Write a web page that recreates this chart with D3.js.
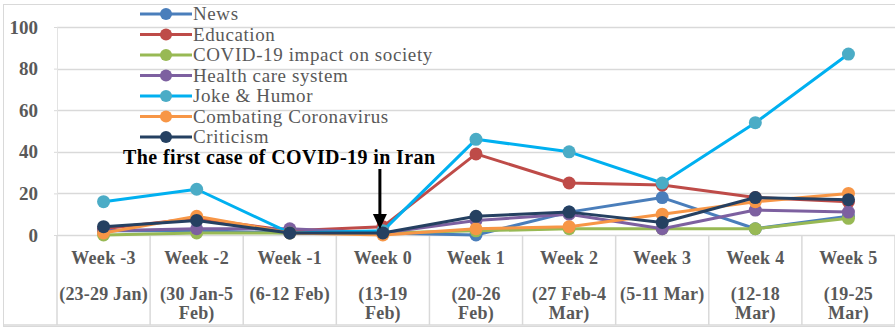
<!DOCTYPE html>
<html>
<head>
<meta charset="utf-8">
<script src="https://cdn.jsdelivr.net/npm/d3@7"></script>
<style>
  body { margin: 0; background: #fff; }
  svg { display: block; font-family: "Liberation Serif", "Times New Roman", serif; }
</style>
</head>
<body>
<div id="wrapper"></div>
<script>
const weeks = ["Week -3", "Week -2", "Week -1", "Week 0", "Week 1", "Week 2", "Week 3", "Week 4", "Week 5"]
const dateLabels = [
  ["(23-29 Jan)"], ["(30 Jan-5", "Feb)"], ["(6-12 Feb)"], ["(13-19", "Feb)"], ["(20-26", "Feb)"],
  ["(27 Feb-4", "Mar)"], ["(5-11 Mar)"], ["(12-18", "Mar)"], ["(19-25", "Mar)"]
]
const yTicks = [0, 20, 40, 60, 80, 100]

const news = [2, 2, 1, 1, 0, 11, 18, 3, 9]
const education = [3, 8, 2, 4, 39, 25, 24, 18, 16]
const covidImpact = [0, 1, 1, 1, 2, 3, 3, 3, 8]
const healthCare = [2, 3, 3, 1, 7, 10, 3, 12, 11]
const jokeHumor = [16, 22, 1, 2, 46, 40, 25, 54, 87]
const combating = [1, 9, 1, 0, 3, 4, 10, 16, 20]
const criticism = [4, 7, 1, 1, 9, 11, 6, 18, 17]

const series = [
  { name: "News", values: news, line: "#4a7ebb", dot: "#4a7ebb" },
  { name: "Education", values: education, line: "#be4b48", dot: "#be4b48" },
  { name: "COVID-19 impact on society", values: covidImpact, line: "#98b954", dot: "#98b954" },
  { name: "Health care system", values: healthCare, line: "#7d60a0", dot: "#7d60a0" },
  { name: "Joke & Humor", values: jokeHumor, line: "#00b0f0", dot: "#4bacc6" },
  { name: "Combating Coronavirus", values: combating, line: "#f79646", dot: "#f79646" },
  { name: "Criticism", values: criticism, line: "#254061", dot: "#254061" }
]

const dimensions = {
  width: 895,
  height: 328,
  margin: { top: 27, right: 0, bottom: 93, left: 57 }
}
dimensions.boundedWidth = dimensions.width - dimensions.margin.left - dimensions.margin.right
dimensions.boundedHeight = dimensions.height - dimensions.margin.top - dimensions.margin.bottom

const wrapper = d3.select("#wrapper")
  .append("svg")
    .attr("width", dimensions.width)
    .attr("height", dimensions.height)

// outer chart border
wrapper.append("rect")
  .attr("x", 3.5).attr("y", 4.5)
  .attr("width", dimensions.width).attr("height", dimensions.height - 6)
  .attr("fill", "none").attr("stroke", "#d9d9d9")

const bounds = wrapper.append("g")
  .attr("transform", `translate(${dimensions.margin.left},${dimensions.margin.top})`)

const xScale = d3.scaleBand()
  .domain(weeks)
  .range([0, dimensions.boundedWidth])

const yScale = d3.scaleLinear()
  .domain([0, 100])
  .range([dimensions.boundedHeight, 0])

// gridlines
bounds.append("g")
  .selectAll("line")
  .data(yTicks)
  .enter().append("line")
    .attr("x1", 0).attr("x2", dimensions.boundedWidth)
    .attr("y1", d => Math.round(yScale(d)) + 0.5)
    .attr("y2", d => Math.round(yScale(d)) + 0.5)
    .attr("stroke", "#d9d9d9").attr("stroke-width", 1.5)

// y axis
const yAxisGenerator = d3.axisLeft(yScale)
  .tickValues(yTicks)
  .tickSize(3)
  .tickPadding(16)

const yAxis = bounds.append("g").call(yAxisGenerator)
yAxis.select(".domain").attr("stroke", "#e3e3e3")
yAxis.selectAll(".tick line").attr("stroke", "#d9d9d9")
yAxis.selectAll("text")
  .attr("fill", "#595959")
  .style("font-size", "19px")
  .style("font-weight", "bold")
  .style("font-family", "Liberation Serif, serif")

// x category table
const catGroup = bounds.append("g")
  .attr("transform", `translate(0,${dimensions.boundedHeight})`)

catGroup.selectAll("line.sep")
  .data(weeks.concat(["end"]))
  .enter().append("line")
    .attr("class", "sep")
    .attr("x1", (d, i) => i * xScale.bandwidth())
    .attr("x2", (d, i) => i * xScale.bandwidth())
    .attr("y1", 0).attr("y2", 90)
    .attr("stroke", "#d9d9d9").attr("stroke-width", 1.5)

catGroup.append("line")
  .attr("x1", -54).attr("x2", dimensions.boundedWidth)
  .attr("y1", 90).attr("y2", 90)
  .attr("stroke", "#d9d9d9").attr("stroke-width", 1.5)

const cats = catGroup.selectAll("g.cat")
  .data(weeks)
  .enter().append("g")
    .attr("class", "cat")
    .attr("transform", d => `translate(${xScale(d) + xScale.bandwidth() / 2},0)`)

cats.append("text")
  .attr("y", 29)
  .attr("text-anchor", "middle")
  .attr("fill", "#595959")
  .style("font-size", "18px")
  .style("font-weight", "bold")
  .style("letter-spacing", "0.3px")
  .text(d => d)

cats.each(function(d, i) {
  d3.select(this).selectAll("text.date")
    .data(dateLabels[i])
    .enter().append("text")
      .attr("class", "date")
      .attr("y", (t, j) => 65 + j * 19)
      .attr("text-anchor", "middle")
      .attr("fill", "#595959")
      .style("font-size", "18px")
      .style("font-weight", "bold")
      .style("letter-spacing", "0.2px")
      .text(t => t)
})

// lines and markers
const lineGenerator = d3.line()
  .x((d, i) => xScale(weeks[i]) + xScale.bandwidth() / 2)
  .y(d => yScale(d))

const seriesGroups = bounds.selectAll("g.series")
  .data(series)
  .enter().append("g")
    .attr("class", "series")

seriesGroups.append("path")
  .attr("d", d => lineGenerator(d.values))
  .attr("fill", "none")
  .attr("stroke", d => d.line)
  .attr("stroke-width", 3)
  .attr("stroke-linejoin", "round")

seriesGroups.each(function(s) {
  d3.select(this).selectAll("circle")
    .data(s.values)
    .enter().append("circle")
      .attr("cx", (d, i) => xScale(weeks[i]) + xScale.bandwidth() / 2)
      .attr("cy", d => yScale(d))
      .attr("r", 6.5)
      .attr("fill", s.dot)
})

// legend
const legend = wrapper.append("g")
  .attr("transform", "translate(140,14)")

const legendItems = legend.selectAll("g")
  .data(series)
  .enter().append("g")
    .attr("transform", (d, i) => `translate(0,${i * 20.5})`)

legendItems.append("line")
  .attr("x1", 0).attr("x2", 52)
  .attr("stroke", d => d.line)
  .attr("stroke-width", 3)

legendItems.append("circle")
  .attr("cx", 26).attr("r", 6)
  .attr("fill", d => d.dot)

legendItems.append("text")
  .attr("x", 53)
  .attr("dy", "0.33em")
  .attr("fill", "#595959")
  .style("font-size", "19px")
  .style("letter-spacing", "0.6px")
  .text(d => d.name)

// annotation
const annotation = wrapper.append("g")
annotation.append("text")
  .attr("x", 123).attr("y", 164)
  .attr("fill", "#000")
  .style("font-size", "20px")
  .style("font-weight", "bold")
  .style("letter-spacing", "0.4px")
  .text("The first case of COVID-19 in Iran")

const arrowX = dimensions.margin.left + xScale("Week 0") + xScale.bandwidth() / 2 - 3
annotation.append("line")
  .attr("x1", arrowX).attr("x2", arrowX)
  .attr("y1", 169).attr("y2", 216)
  .attr("stroke", "#000").attr("stroke-width", 3)
annotation.append("path")
  .attr("d", `M${arrowX - 7},214 L${arrowX + 7},214 L${arrowX},229 Z`)
  .attr("fill", "#000")
</script>
</body>
</html>
